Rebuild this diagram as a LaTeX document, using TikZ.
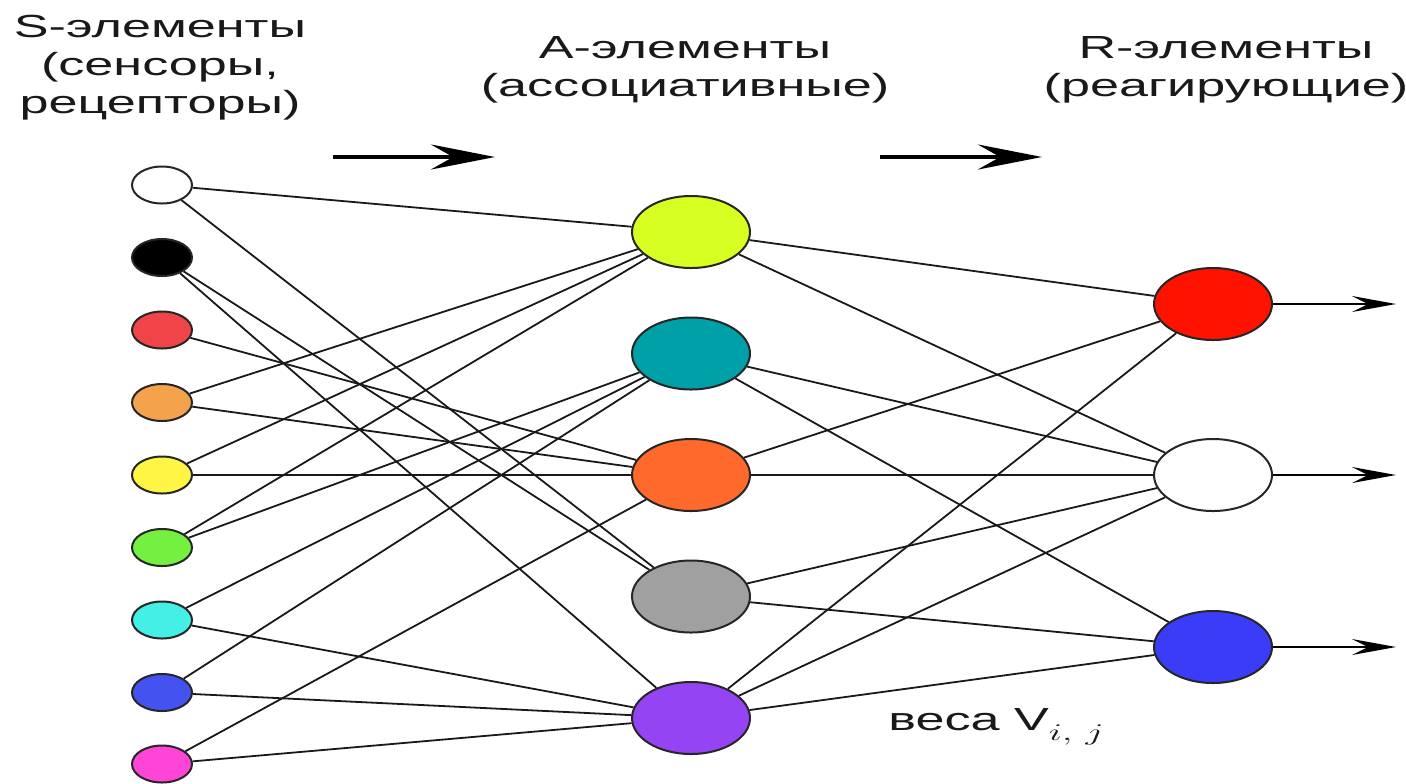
\documentclass[tikz,border=0pt]{standalone}
\usepackage{fontspec}
\setmainfont{Liberation Sans}
\usetikzlibrary{arrows.meta,shapes.geometric}
\newcommand{\hstr}[1]{\scalebox{1.63}[1]{#1}}
\definecolor{cS3}{HTML}{F04448}
\definecolor{cS4}{HTML}{F5A24C}
\definecolor{cS5}{HTML}{FFF545}
\definecolor{cS6}{HTML}{74F040}
\definecolor{cS7}{HTML}{44F0E6}
\definecolor{cS8}{HTML}{4452F0}
\definecolor{cS9}{HTML}{FF44D8}
\definecolor{cA1}{HTML}{D8FF22}
\definecolor{cA2}{HTML}{00A0A8}
\definecolor{cA3}{HTML}{FF6A2C}
\definecolor{cA4}{HTML}{A0A0A0}
\definecolor{cA5}{HTML}{9444F2}
\definecolor{cR1}{HTML}{FF1200}
\definecolor{cR3}{HTML}{3A3CF8}
\tikzset{
  snode/.style={ellipse, draw=black!85, line width=1pt, minimum width=30pt, minimum height=18.5pt, inner sep=0pt},
  bnode/.style={ellipse, draw=black!85, line width=1pt, minimum width=59pt, minimum height=36pt, inner sep=0pt},
  conn/.style={draw=black!90, line width=0.9pt},
  outarr/.style={draw=black, line width=0.9pt, -{Stealth[length=22pt, width=8pt, inset=8pt]}},
  toparr/.style={draw=black, line width=2.4pt, -{Stealth[length=32pt, width=12.5pt, inset=11pt]}},
  lab/.style={align=center, font=\fontsize{16}{19}\selectfont, inner sep=0pt, text=black!90}
}
\begin{document}
\begin{tikzpicture}[x=0.5pt,y=-0.5pt]
\useasboundingbox (0,0) rectangle (1406,783);
% labels
\node[lab] (tS) at (160,68) {\hstr{S-элементы}\\\hstr{(сенсоры,}\\\hstr{рецепторы)}};
\node[lab] (tA) at (685,70) {\hstr{A-элементы}\\\hstr{(ассоциативные)}};
\node[lab] (tR) at (1226,70) {\hstr{R-элементы}\\\hstr{(реагирующие)}};
% top arrows
\coordinate (a1s) at (333,157); \coordinate (a1e) at (495,157);
\coordinate (a2s) at (880,157); \coordinate (a2e) at (1042,157);
\draw[toparr] (a1s) -- (a1e);
\draw[toparr] (a2s) -- (a2e);
% S nodes
\node[snode, fill=white] (S1) at (162,185) {};
\node[snode, fill=black] (S2) at (162,257.5) {};
\node[snode, fill=cS3] (S3) at (162,330) {};
\node[snode, fill=cS4] (S4) at (162,402.5) {};
\node[snode, fill=cS5] (S5) at (162,475) {};
\node[snode, fill=cS6] (S6) at (162,547.5) {};
\node[snode, fill=cS7] (S7) at (162,620) {};
\node[snode, fill=cS8] (S8) at (162,692.5) {};
\node[snode, fill=cS9] (S9) at (162,764) {};
% A nodes
\node[bnode, fill=cA1] (A1) at (691,232) {};
\node[bnode, fill=cA2] (A2) at (691,353.5) {};
\node[bnode, fill=cA3] (A3) at (691,475) {};
\node[bnode, fill=cA4] (A4) at (691,596.5) {};
\node[bnode, fill=cA5] (A5) at (691,718) {};
% R nodes
\node[bnode, fill=cR1] (R1) at (1213,304) {};
\node[bnode, fill=white] (R2) at (1213,475) {};
\node[bnode, fill=cR3] (R3) at (1213,647) {};
% S -> A
\draw[conn] (S1) -- (A1); \draw[conn] (S1) -- (A4);
\draw[conn] (S2) -- (A4); \draw[conn] (S2) -- (A5);
\draw[conn] (S3) -- (A3);
\draw[conn] (S4) -- (A1); \draw[conn] (S4) -- (A3);
\draw[conn] (S5) -- (A1); \draw[conn] (S5) -- (A3);
\draw[conn] (S6) -- (A1); \draw[conn] (S6) -- (A2);
\draw[conn] (S7) -- (A2); \draw[conn] (S7) -- (A5);
\draw[conn] (S8) -- (A2); \draw[conn] (S8) -- (A5);
\draw[conn] (S9) -- (A3); \draw[conn] (S9) -- (A5);
% A -> R
\draw[conn] (A1) -- (R1); \draw[conn] (A1) -- (R2);
\draw[conn] (A2) -- (R2); \draw[conn] (A2) -- (R3);
\draw[conn] (A3) -- (R1); \draw[conn] (A3) -- (R2);
\draw[conn] (A4) -- (R2); \draw[conn] (A4) -- (R3);
\draw[conn] (A5) -- (R1); \draw[conn] (A5) -- (R2); \draw[conn] (A5) -- (R3);
% outputs
\coordinate (o1) at (1396,304);
\coordinate (o2) at (1396,475);
\coordinate (o3) at (1396,647);
\draw[outarr] (R1) -- (o1);
\draw[outarr] (R2) -- (o2);
\draw[outarr] (R3) -- (o3);
% weights label
\node[lab, anchor=base west] (w) at (888,730) {\hstr{веса V\raisebox{-0.32em}{\fontsize{11.5}{12}\selectfont$i,\,j$}}};
\end{tikzpicture}
\end{document}
